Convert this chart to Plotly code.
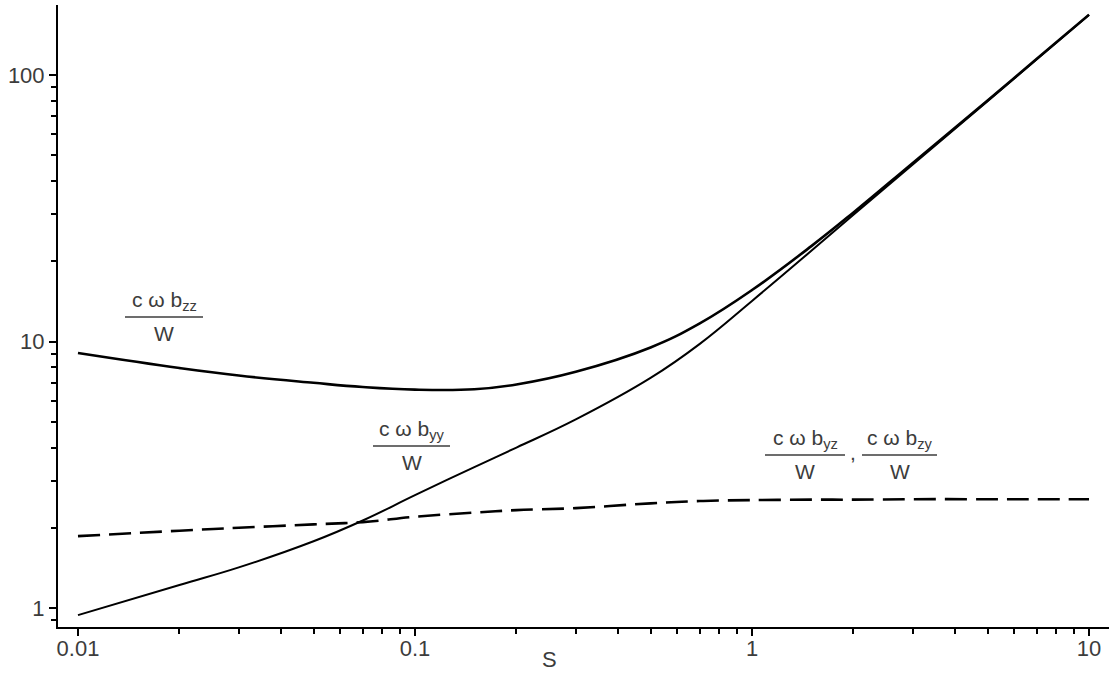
import plotly.graph_objects as go

# Dimensionless frequency S (log scale)
s = [0.01, 0.02, 0.03, 0.05, 0.07, 0.1, 0.15, 0.2, 0.3, 0.5, 0.7,
     1, 1.5, 2, 3, 5, 7, 10]

# c*omega*b_yy / W
b_yy = [0.94, 1.22, 1.42, 1.78, 2.13, 2.65, 3.38, 4.0, 5.1, 7.3, 9.8,
        14.2, 21.9, 29.9, 46.2, 79.8, 114.5, 168]

# c*omega*b_zz / W
b_zz = [9.05, 7.95, 7.45, 7.0, 6.75, 6.6, 6.62, 6.9, 7.7, 9.5, 11.7,
        15.6, 22.8, 30.5, 46.8, 80.3, 115, 168.5]

# c*omega*b_yz / W = c*omega*b_zy / W
b_yz = [1.86, 1.95, 2.0, 2.06, 2.10, 2.2, 2.28, 2.33, 2.37, 2.47, 2.52,
        2.54, 2.55, 2.55, 2.56, 2.56, 2.56, 2.56]

x_major = [0.01, 0.1, 1, 10]
x_major_text = ["0.01", "0.1", "1", "10"]
y_major = [1, 10, 100]
y_major_text = ["1", "10", "100"]

x_minor = [m * d for d in (0.01, 0.1, 1) for m in range(2, 10)]
y_minor = [0.9] + [m * d for d in (1, 10) for m in range(2, 10)]

W, H = 1109, 673
ML, MR, MT, MB = 58, 0, 5, 46
TEXT = "#3c3c3c"
FONT = "Liberation Sans"

fig = go.Figure()
fig.add_trace(go.Scatter(x=s, y=b_zz, mode="lines",
                         line=dict(color="black", width=2.6, shape="spline",
                                   smoothing=1.2)))
fig.add_trace(go.Scatter(x=s, y=b_yy, mode="lines",
                         line=dict(color="black", width=2, shape="spline",
                                   smoothing=1.2)))
fig.add_trace(go.Scatter(x=s, y=b_yz, mode="lines",
                         line=dict(color="black", width=2.6, shape="spline",
                                   dash="22px,9px")))

pw, ph = W - ML - MR, H - MT - MB


def px(xp):
    return (xp - ML) / pw


def py(yp):
    return (H - MB - yp) / ph


def fraction(num, x0, x1, ybar):
    xc = px((x0 + x1) / 2)
    fig.add_shape(type="line", xref="paper", yref="paper",
                  x0=px(x0), x1=px(x1), y0=py(ybar), y1=py(ybar),
                  line=dict(color=TEXT, width=1.5))
    fig.add_annotation(x=xc, y=py(ybar - 1), xref="paper", yref="paper",
                       text=num, showarrow=False,
                       xanchor="center", yanchor="bottom",
                       font=dict(family=FONT, size=21, color=TEXT))
    fig.add_annotation(x=xc, y=py(ybar + 3), xref="paper", yref="paper",
                       text="W", showarrow=False,
                       xanchor="center", yanchor="top",
                       font=dict(family=FONT, size=21, color=TEXT))


fraction("c ω b<sub>zz</sub>", 125, 203, 317)
fraction("c ω b<sub>yy</sub>", 373, 450, 446)
fraction("c ω b<sub>yz</sub>", 765, 845, 455)
fraction("c ω b<sub>zy</sub>", 862, 937, 455)
fig.add_annotation(x=px(853), y=py(452), xref="paper", yref="paper",
                   text=",", showarrow=False,
                   xanchor="center", yanchor="middle",
                   font=dict(family=FONT, size=21, color=TEXT))

# x-axis title
fig.add_annotation(x=px(549), y=py(659), xref="paper", yref="paper",
                   text="S", showarrow=False,
                   xanchor="center", yanchor="middle",
                   font=dict(family=FONT, size=22, color=TEXT))

axis_common = dict(
    type="log", showgrid=False, zeroline=False, showline=True,
    linecolor="black", linewidth=2, ticks="outside", ticklen=7,
    tickwidth=1.5, tickcolor="black", automargin=False,
    tickfont=dict(family=FONT, size=22, color=TEXT),
)

fig.update_layout(
    width=W, height=H,
    margin=dict(l=ML, r=MR, t=MT, b=MB, autoexpand=False),
    paper_bgcolor="white", plot_bgcolor="white",
    showlegend=False,
    xaxis=dict(axis_common, range=[-2.0593, 1.0593],
               tickvals=x_major, ticktext=x_major_text,
               ticklabelstandoff=-6,
               minor=dict(tickvals=x_minor, ticks="outside", ticklen=5,
                          tickwidth=1.5, tickcolor="black", showgrid=False)),
    yaxis=dict(axis_common, range=[-0.0713, 2.2627],
               tickvals=y_major, ticktext=y_major_text,
               minor=dict(tickvals=y_minor, ticks="outside", ticklen=5,
                          tickwidth=1.5, tickcolor="black", showgrid=False)),
)

fig.write_html("out.html")
